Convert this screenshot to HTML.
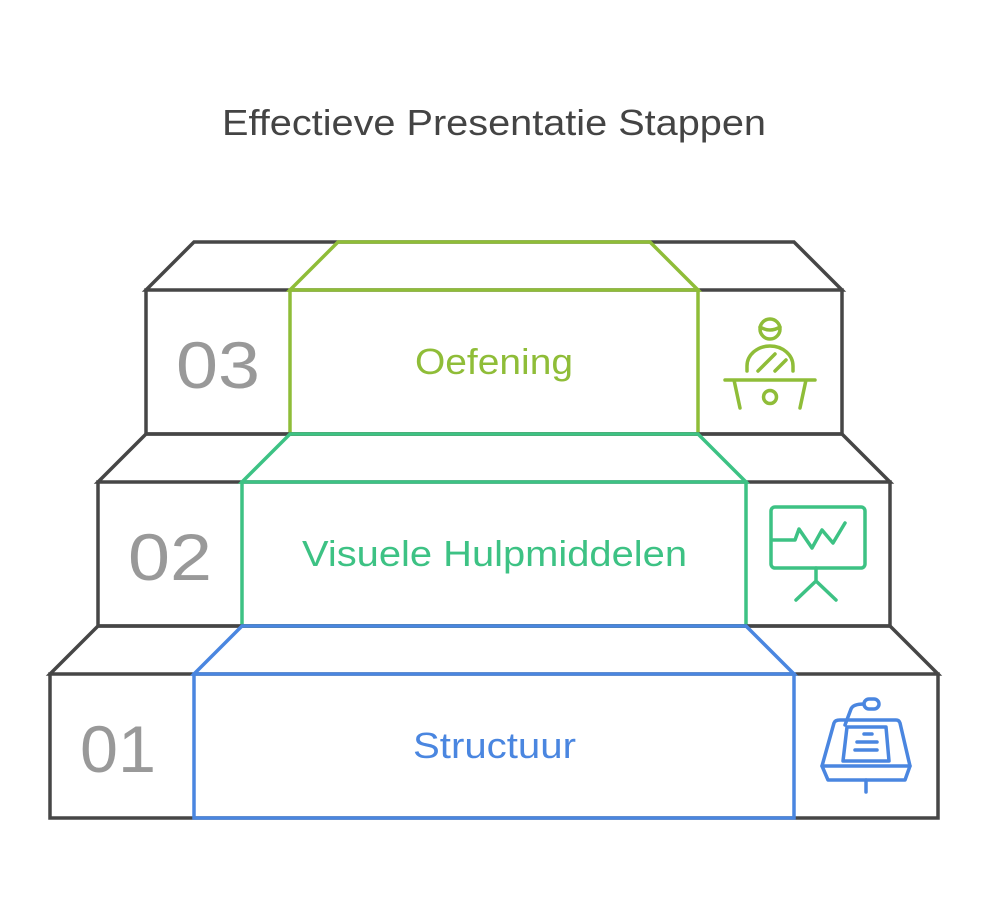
<!DOCTYPE html>
<html><head><meta charset="utf-8"><style>
html,body{margin:0;padding:0;background:#fff;}
svg{display:block;}
text{font-family:"Liberation Sans",Roboto,sans-serif;}
</style></head><body>
<svg width="988" height="916" viewBox="0 0 988 916" xmlns="http://www.w3.org/2000/svg">
<text x="222" y="135" font-size="36" fill="#444" textLength="544" lengthAdjust="spacingAndGlyphs">Effectieve Presentatie Stappen</text>
<g fill="none" stroke-width="3.5" stroke-linejoin="miter">
<path d="M146 290 L194 242 L794 242 L842 290 Z M146 290 H842 V434 H146 Z" stroke="#464646"/>
<path d="M290 290 L338 242 L650 242 L698 290 Z M290 290 H698 V434 H290 Z" stroke="#8fbd38"/>
<path d="M98 482 L146 434 L842 434 L890 482 Z M98 482 H890 V626 H98 Z" stroke="#464646"/>
<path d="M242 482 L290 434 L698 434 L746 482 Z M242 482 H746 V626 H242 Z" stroke="#3dc284"/>
<path d="M50 674 L98 626 L890 626 L938 674 Z M50 674 H938 V818 H50 Z" stroke="#464646"/>
<path d="M194 674 L242 626 L746 626 L794 674 Z M194 674 H794 V818 H194 Z" stroke="#4a86e0"/>
</g>
<text x="176" y="388" font-size="66" fill="#999" textLength="84" lengthAdjust="spacingAndGlyphs">03</text>
<text x="128" y="580" font-size="66" fill="#999" textLength="84" lengthAdjust="spacingAndGlyphs">02</text>
<text x="80" y="772" font-size="66" fill="#999" textLength="76" lengthAdjust="spacingAndGlyphs">01</text>
<text x="415" y="374" font-size="36" fill="#8fbd38" textLength="158" lengthAdjust="spacingAndGlyphs">Oefening</text>
<text x="302" y="566" font-size="36" fill="#3dc284" textLength="385" lengthAdjust="spacingAndGlyphs">Visuele Hulpmiddelen</text>
<text x="413" y="758" font-size="36" fill="#4a86e0" textLength="163" lengthAdjust="spacingAndGlyphs">Structuur</text>
<g fill="none" stroke="#8fbd38" stroke-width="3.5" stroke-linecap="round">
<circle cx="770" cy="329" r="10"/>
<path d="M760 327 Q770 333 780 327"/>
<path d="M747 371 V366 A23 20 0 0 1 793 366 V371"/>
<path d="M758 371 L775 354 M775 371 L786 360"/>
<path d="M725 380 H815 M734 380 L740 408 M806 380 L800 408"/>
<circle cx="770" cy="397" r="6.5"/>
</g>
<g fill="none" stroke="#3dc284" stroke-width="3.5" stroke-linecap="round" stroke-linejoin="round">
<rect x="771" y="507" width="94" height="61" rx="4"/>
<path d="M773 540 H795 L799 529 L812 548 L822 530 L833 543 L845 523"/>
<path d="M816 568 V581 L796 600 M816 581 L836 600"/>
</g>
<g fill="none" stroke="#4a86e0" stroke-width="3.5" stroke-linecap="round" stroke-linejoin="round">
<rect x="864" y="699" width="15" height="10" rx="5"/>
<path d="M845 725 L851 709 Q853 704 864 704"/>
<path d="M840 720 H896 Q899 720 900 723 L910 766 L905 780 H828 L822 766 L834 723 Q835 720 840 720 Z"/>
<path d="M822 766 H910"/>
<path d="M847 727 H886 L889 761 H843 Z"/>
<path d="M864 734 H872 M857 742 H877 M855 750 H877"/>
<path d="M866 780 V792"/>
</g>
</svg>
</body></html>
